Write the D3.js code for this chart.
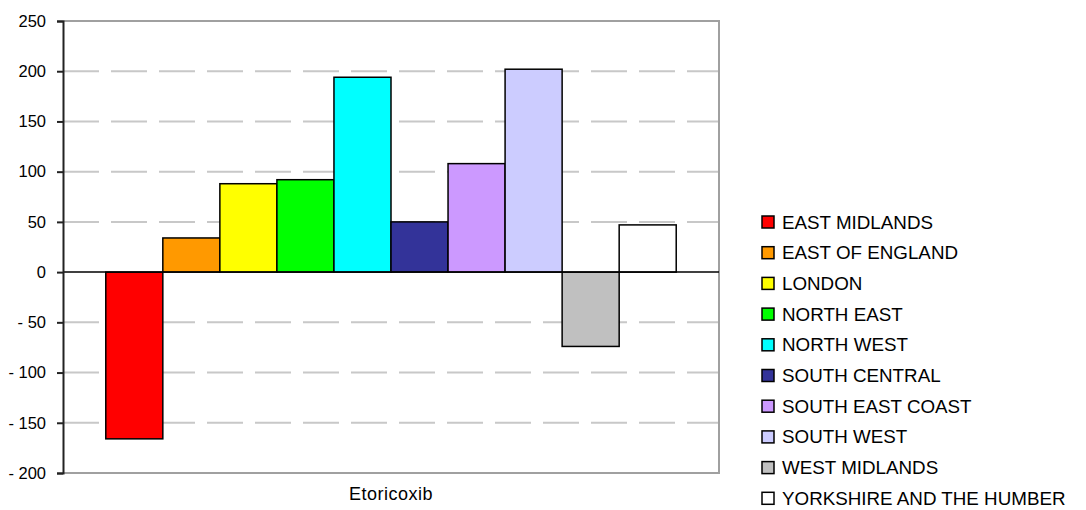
<!DOCTYPE html>
<html>
<head>
<meta charset="utf-8">
<script src="https://cdn.jsdelivr.net/npm/d3@7"></script>
<style>
  html, body { margin: 0; padding: 0; background: #ffffff; }
  svg { display: block; }
  text { font-family: Arial, "Liberation Sans", sans-serif; fill: #000; }
</style>
</head>
<body>
<svg id="chart" width="1086" height="510"></svg>
<script>
// Regional values for a single drug
const category = "Etoricoxib";
const regions = [
  "EAST MIDLANDS", "EAST OF ENGLAND", "LONDON", "NORTH EAST", "NORTH WEST",
  "SOUTH CENTRAL", "SOUTH EAST COAST", "SOUTH WEST", "WEST MIDLANDS",
  "YORKSHIRE AND THE HUMBER"
];
const values = [-166, 34, 88, 92, 194, 50, 108, 202, -74, 47];
const colors = [
  "#ff0000", "#ff9900", "#ffff00", "#00ff00", "#00ffff",
  "#333399", "#cc99ff", "#ccccff", "#c0c0c0", "#ffffff"
];
const yTicks = [250, 200, 150, 100, 50, 0, -50, -100, -150, -200];

const svg = d3.select("#chart");
const plot = { left: 63, right: 719, top: 21, bottom: 473 };

const y = d3.scaleLinear().domain([-200, 250]).range([plot.bottom, plot.top]);

// One category; the series share it with a 15% gap around the group
const x0 = d3.scaleBand().domain([category]).range([plot.left, plot.right])
  .paddingInner(0).paddingOuter(0.075);
const x1 = d3.scaleBand().domain(regions).range([0, x0.bandwidth()]).padding(0);

// Dashed gridlines
svg.append("g")
  .selectAll("line")
  .data(yTicks.filter(t => t !== 0 && t !== 250 && t !== -200))
  .join("line")
  .attr("x1", plot.left).attr("x2", plot.right)
  .attr("y1", d => y(d)).attr("y2", d => y(d))
  .attr("stroke", "#c8c8c8").attr("stroke-width", 2)
  .attr("stroke-dasharray", "36,12");

// Plot frame (top, right, bottom)
svg.append("path")
  .attr("d", `M${plot.left},${plot.top}H${plot.right}V${plot.bottom}H${plot.left}`)
  .attr("fill", "none").attr("stroke", "#a0a0a0").attr("stroke-width", 2);

// Bars
svg.append("g")
  .selectAll("rect")
  .data(regions.map((r, i) => ({ r, v: values[i], c: colors[i] })))
  .join("rect")
  .attr("x", d => x0(category) + x1(d.r))
  .attr("width", x1.bandwidth())
  .attr("y", d => y(Math.max(0, d.v)))
  .attr("height", d => Math.abs(y(d.v) - y(0)))
  .attr("fill", d => d.c)
  .attr("stroke", "#000").attr("stroke-width", 1.5);

// Zero line
svg.append("line")
  .attr("x1", plot.left).attr("x2", plot.right)
  .attr("y1", y(0)).attr("y2", y(0))
  .attr("stroke", "#000").attr("stroke-width", 1.5);

// Value axis
const yAxis = d3.axisLeft(y)
  .tickValues(yTicks)
  .tickSize(6)
  .tickPadding(11)
  .tickFormat(d => d < 0 ? "- " + Math.abs(d) : String(d));
const ga = svg.append("g").attr("transform", `translate(${plot.left},0)`).call(yAxis);
ga.select(".domain").attr("stroke", "#222").attr("stroke-width", 2);
ga.selectAll(".tick line").attr("stroke", "#222").attr("stroke-width", 2);
ga.selectAll(".tick text")
  .style("font-family", "Arial, 'Liberation Sans', sans-serif")
  .style("font-size", "16.5px").attr("fill", "#000");

// Category label
svg.append("text")
  .attr("x", x0(category) + x0.bandwidth() / 2)
  .attr("y", 500)
  .attr("text-anchor", "middle")
  .style("font-size", "18px")
  .style("letter-spacing", "0.5px")
  .text(category);

// Legend
const legend = svg.append("g").attr("transform", "translate(762,216)");
const rows = legend.selectAll("g")
  .data(regions.map((r, i) => ({ r, c: colors[i] })))
  .join("g")
  .attr("transform", (d, i) => `translate(0,${i * 30.7})`);
rows.append("rect")
  .attr("width", 12).attr("height", 12)
  .attr("fill", d => d.c)
  .attr("stroke", "#000").attr("stroke-width", 1.5);
rows.append("text")
  .attr("x", 20).attr("y", 6)
  .attr("dy", "0.35em")
  .style("font-size", "18.8px")
  .text(d => d.r);
</script>
</body>
</html>
